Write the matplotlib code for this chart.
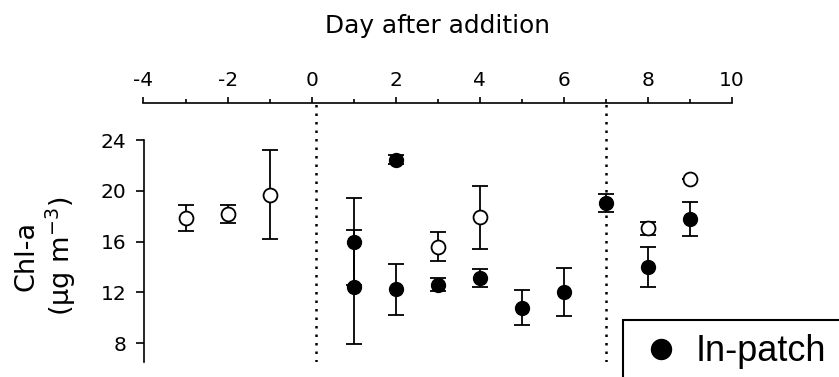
import matplotlib
matplotlib.use('Agg')
import matplotlib.pyplot as plt
from matplotlib.ticker import MultipleLocator
from matplotlib.lines import Line2D

plt.rcParams['font.family'] = 'DejaVu Sans'
plt.rcParams['axes.unicode_minus'] = False

# out-patch (open circles)
out_day = [-3, -2, -1, 3, 4, 8, 9]
out_chl = [17.85, 18.2, 19.7, 15.6, 17.9, 17.05, 20.9]
out_err = [1.0, 0.7, 3.5, 1.15, 2.45, 0.5, 0.0]

# in-patch (filled circles)
in_day = [1, 1, 2, 2, 3, 4, 5, 6, 7, 8, 9]
in_chl = [16.0, 12.45, 22.45, 12.25, 12.6, 13.15, 10.8, 12.0, 19.05, 14.0, 17.8]
in_err = [3.4, 4.5, 0.35, 2.0, 0.5, 0.7, 1.4, 1.9, 0.7, 1.6, 1.35]

event_days = [0.1, 7]
xticks = [-4, -2, 0, 2, 4, 6, 8, 10]
yticks = [8, 12, 16, 20, 24]

fig = plt.figure(figsize=(8.39, 3.77), dpi=100)
ax = fig.add_axes([143.5/839, 15/377, (732-143.5)/839, (362-103)/377])

ymin, ymax = 6.51, 26.92
ax.set_xlim(-4, 10)
ax.set_ylim(ymin, ymax)

# dotted event lines
ax.vlines(event_days, ymin, ymax, colors='black', linewidth=1.8,
          linestyles=[(0, (1, 2.4))], zorder=1)

ax.errorbar(out_day, out_chl, yerr=out_err, fmt='o', color='black', ecolor='black',
            mfc='white', mec='black', mew=1.3, ms=10, elinewidth=1.3, capsize=5.5,
            capthick=1.3, zorder=3)
ax.errorbar(in_day, in_chl, yerr=in_err, fmt='o', color='black', ecolor='black',
            mfc='black', mec='black', ms=10, elinewidth=1.3, capsize=5.5,
            capthick=1.3, zorder=3)

# axes styling: x axis on top, y axis on left starting at 24
ax.spines['right'].set_visible(False)
ax.spines['bottom'].set_visible(False)
ax.spines['top'].set_linewidth(1.2)
ax.spines['left'].set_linewidth(1.2)
ax.spines['left'].set_bounds(ymin, 24)

ax.xaxis.tick_top()
ax.set_xticks(xticks)
ax.xaxis.set_minor_locator(MultipleLocator(1))
ax.tick_params(axis='x', which='major', direction='out', length=4.5, width=1.2,
               labelsize=14.5, pad=4.5)
ax.tick_params(axis='x', which='minor', direction='out', length=2.8, width=1.2)
ax.set_yticks(yticks)
ax.tick_params(axis='y', which='major', direction='out', length=6, width=1.2,
               labelsize=14.5, pad=6.5)

fig.text(437.5/839, 1-33/377, 'Day after addition', ha='center', va='baseline',
         fontsize=17.8)
fig.text(46/839, 1-256/377, 'Chl-a\n(µg m$^{-3}$)', ha='center', va='center',
         rotation=90, multialignment='center', fontsize=19.5, linespacing=1.15)

# legend (cropped at the figure edge)
h = Line2D([], [], marker='o', linestyle='none', color='black', ms=14.4)
fig.legend([h], ['In-patch'], loc='upper left',
           bbox_to_anchor=(623/839, 1-320/377), borderaxespad=0,
           frameon=True, fancybox=False, edgecolor='black', framealpha=1,
           prop={'family': 'Liberation Sans', 'size': 26}, numpoints=1,
           handlelength=1.28, handletextpad=0.33, borderpad=0.4
           ).get_frame().set_linewidth(1.5)

fig.savefig('out.png', dpi=100)
